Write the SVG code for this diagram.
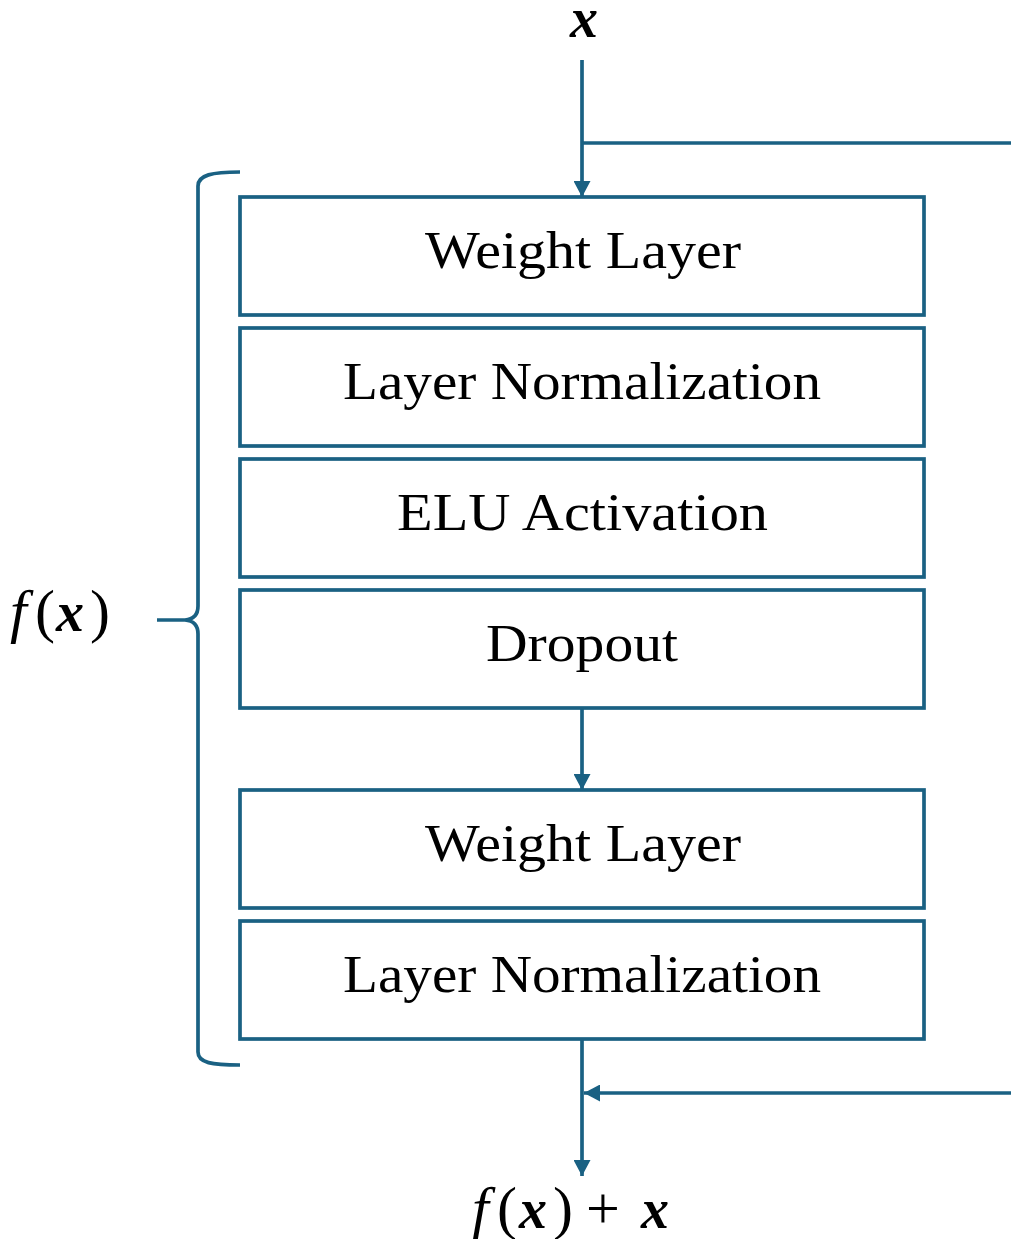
<svg xmlns="http://www.w3.org/2000/svg" width="1011" height="1239" viewBox="0 0 1011 1239">
  <style>
    .box { fill: #ffffff; stroke: #1a6183; stroke-width: 3.7; }
    .line { fill: none; stroke: #1a6183; stroke-width: 3.7; }
    .lbl { font-family: "Liberation Serif", "DejaVu Serif", serif; font-size: 52px; fill: #000000; text-anchor: middle; }
    .math { font-family: "Liberation Serif", "DejaVu Serif", serif; font-size: 60px; fill: #000000; }
    .it { font-style: italic; }
    .bx { font-weight: bold; font-style: italic; font-size: 56px; }
  </style>
  <defs>
    <marker id="arrow" viewBox="0 0 16 17" refX="16" refY="8.5" markerWidth="16" markerHeight="17" markerUnits="userSpaceOnUse" orient="auto">
      <path d="M0,0 L16,8.5 L0,17 Z" fill="#1a6183"/>
    </marker>
  </defs>

  <!-- connectors -->
  <g id="connectors">
    <path class="line" d="M582,60 L582,197" marker-end="url(#arrow)"/>
    <path class="line" d="M582,143 L1011,143"/>
    <path class="line" d="M582,708 L582,790" marker-end="url(#arrow)"/>
    <path class="line" d="M582,1039 L582,1176" marker-end="url(#arrow)"/>
    <path class="line" d="M1011,1093 L584,1093" marker-end="url(#arrow)"/>
    <!-- curly brace grouping f(x) -->
    <path class="line" d="M240,172 C212,172 198,175 198,186 L198,606 Q198,619 185,620 L157,620 M185,620 Q198,621 198,634 L198,1052 C198,1063 212,1065 240,1065"/>
  </g>

  <!-- layer blocks -->
  <g id="weight1">
    <rect class="box" x="240" y="197" width="684" height="118"/>
    <text class="lbl" x="583" y="268" textLength="316" lengthAdjust="spacingAndGlyphs">Weight Layer</text>
  </g>
  <g id="norm1">
    <rect class="box" x="240" y="328" width="684" height="118"/>
    <text class="lbl" x="582" y="399" textLength="478" lengthAdjust="spacingAndGlyphs">Layer Normalization</text>
  </g>
  <g id="elu">
    <rect class="box" x="240" y="459" width="684" height="118"/>
    <text class="lbl" x="582.5" y="530" textLength="371" lengthAdjust="spacingAndGlyphs">ELU Activation</text>
  </g>
  <g id="dropout">
    <rect class="box" x="240" y="590" width="684" height="118"/>
    <text class="lbl" x="582" y="661" textLength="192" lengthAdjust="spacingAndGlyphs">Dropout</text>
  </g>
  <g id="weight2">
    <rect class="box" x="240" y="790" width="684" height="118"/>
    <text class="lbl" x="583" y="861" textLength="316" lengthAdjust="spacingAndGlyphs">Weight Layer</text>
  </g>
  <g id="norm2">
    <rect class="box" x="240" y="921" width="684" height="118"/>
    <text class="lbl" x="582" y="992" textLength="478" lengthAdjust="spacingAndGlyphs">Layer Normalization</text>
  </g>

  <!-- math labels -->
  <g id="input">
    <text class="math bx" x="584" y="37" text-anchor="middle">x</text>
  </g>
  <g id="fx">
    <text class="math" y="631"><tspan class="it" x="10">f</tspan><tspan x="35">(</tspan><tspan class="bx" x="56">x</tspan><tspan x="90">)</tspan></text>
  </g>
  <g id="output">
    <text class="math" y="1228"><tspan class="it" x="472">f</tspan><tspan x="497">(</tspan><tspan class="bx" x="519">x</tspan><tspan x="553">)</tspan><tspan x="586">+</tspan><tspan class="bx" x="641">x</tspan></text>
  </g>
</svg>
